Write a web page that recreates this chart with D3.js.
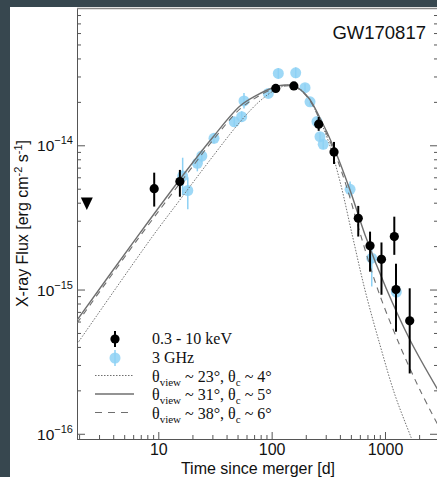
<!DOCTYPE html>
<html>
<head>
<meta charset="utf-8">
<script src="https://cdn.jsdelivr.net/npm/d3@7"></script>
<style>
body { margin: 0; background: #37474f; }
svg { display: block; }
</style>
</head>
<body>
<svg width="437" height="477"></svg>
<script>
// X-ray points (0.3 - 10 keV): time [d], flux and error range
var xrayT  = [9.2, 15.5, 108.7, 157, 260, 355, 581, 738, 931, 1208, 1250, 1652];
var xrayF  = [5.0e-15, 5.6e-15, 2.48e-14, 2.58e-14, 1.40e-14, 9.0e-15, 3.12e-15, 2.01e-15, 1.62e-15, 2.33e-15, 1.0e-15, 6.07e-16];
var xrayLo = [3.76e-15, 4.40e-15, 2.33e-14, 2.43e-14, 1.26e-14, 7.42e-15, 2.33e-15, 1.33e-15, 9.2e-16, 1.74e-15, 5.1e-16, 2.62e-16];
var xrayHi = [6.46e-15, 6.75e-15, 2.64e-14, 2.74e-14, 1.57e-14, 1.055e-14, 3.8e-15, 2.52e-15, 2.12e-15, 3.2e-15, 1.51e-15, 1.02e-15];

// upper limit
var limitT = [2.34];
var limitF = [3.95e-15];

// 3 GHz points (scaled to X-ray)
var radioT  = [16.4, 18.2, 22.1, 24.2, 31.0, 46.8, 54.4, 57.0, 93.4, 114.5, 163, 197, 218, 251, 267, 285, 492, 764, 1259];
var radioF  = [6.12e-15, 4.86e-15, 7.5e-15, 8.43e-15, 1.117e-14, 1.456e-14, 1.58e-14, 2.03e-14, 2.29e-14, 3.15e-14, 3.18e-14, 2.51e-14, 2.0e-14, 1.46e-14, 1.148e-14, 1.016e-14, 4.95e-15, 1.65e-15, 9.6e-16];
var radioLo = [4.5e-15, 3.6e-15, 6.6e-15, 7.6e-15, 1.03e-14, 1.35e-14, 1.45e-14, 1.80e-14, 2.15e-14, 2.90e-14, 2.92e-14, 2.36e-14, 1.88e-14, 1.38e-14, 1.07e-14, 9.4e-15, 4.4e-15, 1.05e-15, 8.7e-16];
var radioHi = [8.2e-15, 6.0e-15, 8.4e-15, 9.3e-15, 1.21e-14, 1.57e-14, 1.72e-14, 2.30e-14, 2.44e-14, 3.42e-14, 3.46e-14, 2.67e-14, 2.13e-14, 1.55e-14, 1.23e-14, 1.10e-14, 5.6e-15, 2.0e-15, 1.06e-15];

// model light curves
var modelT23 = [1.92, 8.8, 15.5, 28.6, 52.6, 78.9, 111, 145, 178, 218, 256, 314, 398, 519, 666, 904, 1225, 1694, 2036];
var modelF23 = [4.19e-16, 2.31e-15, 4.18e-15, 7.91e-15, 1.452e-14, 2.03e-14, 2.457e-14, 2.62e-14, 2.457e-14, 2.06e-14, 1.60e-14, 1.088e-14, 5.74e-15, 2.31e-15, 9.92e-16, 4.12e-16, 1.855e-16, 9.49e-17, 6.58e-17];
var modelT31 = [1.92, 6.49, 17.9, 30.4, 52.6, 74.3, 107, 131, 157, 209, 267, 355, 491, 667, 1021, 1662, 2935];
var modelF31 = [6.14e-16, 2.31e-15, 6.74e-15, 1.142e-14, 1.873e-14, 2.23e-14, 2.536e-14, 2.62e-14, 2.58e-14, 2.16e-14, 1.546e-14, 9.58e-15, 4.9e-15, 2.39e-15, 1.024e-15, 4.47e-16, 2.01e-16];
var modelT38 = [1.92, 6.49, 17.9, 30.4, 52.6, 74.3, 107, 131, 161, 209, 267, 355, 462, 602, 867, 1357, 2036, 2935];
var modelF38 = [5.86e-16, 2.20e-15, 6.33e-15, 1.088e-14, 1.786e-14, 2.16e-14, 2.50e-14, 2.58e-14, 2.54e-14, 2.13e-14, 1.498e-14, 9.13e-15, 5.06e-15, 2.47e-15, 9.92e-16, 4.06e-16, 2.01e-16, 1.15e-16];

// ticks and labels
var xMajor = [10, 100, 1000];
var xLabels = ["10", "100", "1000"];
var yMajor = [1e-16, 1e-15, 1e-14];
var yExp = ["\u221216", "\u221215", "\u221214"];

var w = 437, h = 477;
var margin = {top: 8, left: 77},
    width = 361,
    height = 431;

var sans = "'Liberation Sans', Arial, Helvetica, sans-serif";
var serif = "'Liberation Serif', 'Times New Roman', serif";
var blue = "#8dd1f4";
var gray = "#6f6f6f";

var svg = d3.select("svg");

// white paper
svg.append("rect")
    .attr("x", 10).attr("y", 7)
    .attr("width", w - 10).attr("height", h - 7)
    .attr("fill", "#fff");

var x = d3.scaleLog().domain([1.917, 2935]).range([0, width]);
var y = d3.scaleLog().domain([9.2e-17, 8.95e-14]).range([height, 0]);

var g = svg.append("g")
    .attr("transform", "translate(" + margin.left + "," + margin.top + ")");

svg.append("defs").append("clipPath").attr("id", "clip")
  .append("rect").attr("width", width).attr("height", height);

function isMajor(d) {
    var l = Math.log10(d);
    return Math.abs(l - Math.round(l)) < 1e-6;
}

// minor ticks
var xMinor = x.ticks().filter(function(d) { return !isMajor(d); });
var yMinor = y.ticks().filter(function(d) { return !isMajor(d); });

function styleAxis(sel) {
    sel.selectAll("path").attr("stroke", "#555");
    sel.selectAll("line").attr("stroke", "#555");
}

g.append("g")
    .attr("transform", "translate(0," + height + ")")
    .call(d3.axisBottom(x).tickValues(xMinor).tickSize(-4).tickSizeOuter(0).tickFormat(""))
    .call(styleAxis);

g.append("g")
    .attr("transform", "translate(0," + height + ")")
    .call(d3.axisBottom(x).tickValues(xMajor).tickSize(-7).tickSizeOuter(0).tickPadding(5)
        .tickFormat(function(d, i) { return xLabels[i]; }))
    .call(styleAxis)
    .call(function(a) {
        a.selectAll("text").attr("font-family", sans).attr("font-size", 16).attr("fill", "#111");
    });

g.append("g")
    .call(d3.axisLeft(y).tickValues(yMinor).tickSize(-4).tickSizeOuter(0).tickFormat(""))
    .call(styleAxis);
g.append("g")
    .call(d3.axisLeft(y).tickValues(yMajor).tickSize(-8).tickSizeOuter(0).tickFormat(""))
    .call(styleAxis);

g.append("g")
    .attr("transform", "translate(" + width + ",0)")
    .call(d3.axisRight(y).tickValues(yMinor).tickSize(-4).tickSizeOuter(0).tickFormat(""))
    .call(styleAxis);
g.append("g")
    .attr("transform", "translate(" + width + ",0)")
    .call(d3.axisRight(y).tickValues(yMajor).tickSize(-8).tickSizeOuter(0).tickFormat(""))
    .call(styleAxis);

// top border
g.append("line")
    .attr("x1", 0).attr("x2", width)
    .attr("y1", 0.5).attr("y2", 0.5)
    .attr("stroke", "#8a8a8a").attr("stroke-width", 1.5);

// y tick labels 10^n
yMajor.forEach(function(v, i) {
    var t = g.append("text")
        .attr("x", -4).attr("y", y(v) + 6)
        .attr("text-anchor", "end")
        .attr("font-family", sans).attr("font-size", 15.5).attr("fill", "#111");
    t.append("tspan").text("10");
    t.append("tspan").attr("dy", -7).attr("font-size", 11).text(yExp[i]);
});

// axis titles
var yt = svg.append("text")
    .attr("transform", "translate(27.5," + (margin.top + height / 2) + ") rotate(-90)")
    .attr("text-anchor", "middle")
    .attr("font-family", sans).attr("font-size", 16).attr("fill", "#111");
yt.append("tspan").text("X-ray Flux [erg cm");
yt.append("tspan").attr("dy", -6).attr("font-size", 11).text("-2");
yt.append("tspan").attr("dy", 6).text(" s");
yt.append("tspan").attr("dy", -6).attr("font-size", 11).text("-1");
yt.append("tspan").attr("dy", 6).text("]");

svg.append("text")
    .attr("x", 258).attr("y", 474)
    .attr("text-anchor", "middle")
    .attr("font-family", sans).attr("font-size", 16).attr("fill", "#111")
    .text("Time since merger [d]");

svg.append("text")
    .attr("x", 426).attr("y", 39)
    .attr("text-anchor", "end")
    .attr("font-family", sans).attr("font-size", 18.5).attr("fill", "#111")
    .text("GW170817");

var plot = g.append("g").attr("clip-path", "url(#clip)");

// radio points
var radio = radioT.map(function(t, i) { return {t: t, f: radioF[i], lo: radioLo[i], hi: radioHi[i]}; });
plot.selectAll(".rbar").data(radio).enter().append("line")
    .attr("x1", function(d) { return x(d.t); }).attr("x2", function(d) { return x(d.t); })
    .attr("y1", function(d) { return y(d.lo); }).attr("y2", function(d) { return y(d.hi); })
    .attr("stroke", blue).attr("stroke-width", 1.5);
plot.selectAll(".rdot").data(radio).enter().append("circle")
    .attr("cx", function(d) { return x(d.t); })
    .attr("cy", function(d) { return y(d.f); })
    .attr("r", 5.5)
    .attr("fill", blue).attr("fill-opacity", 0.85);

// model curves
var line = d3.line()
    .x(function(d) { return x(d[0]); })
    .y(function(d) { return y(d[1]); })
    .curve(d3.curveCatmullRom.alpha(0.5));

function pairs(ts, fs) { return ts.map(function(t, i) { return [t, fs[i]]; }); }

plot.append("path")
    .attr("d", line(pairs(modelT23, modelF23)))
    .attr("fill", "none").attr("stroke", gray).attr("stroke-width", 1)
    .attr("stroke-dasharray", "1.5,1.5");
plot.append("path")
    .attr("d", line(pairs(modelT31, modelF31)))
    .attr("fill", "none").attr("stroke", gray).attr("stroke-width", 1.4);
plot.append("path")
    .attr("d", line(pairs(modelT38, modelF38)))
    .attr("fill", "none").attr("stroke", gray).attr("stroke-width", 1.1)
    .attr("stroke-dasharray", "6,5");

// x-ray points
var xray = xrayT.map(function(t, i) { return {t: t, f: xrayF[i], lo: xrayLo[i], hi: xrayHi[i]}; });
plot.selectAll(".xbar").data(xray).enter().append("line")
    .attr("x1", function(d) { return x(d.t); }).attr("x2", function(d) { return x(d.t); })
    .attr("y1", function(d) { return y(d.lo); }).attr("y2", function(d) { return y(d.hi); })
    .attr("stroke", "#000").attr("stroke-width", 2);
plot.selectAll(".xdot").data(xray).enter().append("circle")
    .attr("cx", function(d) { return x(d.t); })
    .attr("cy", function(d) { return y(d.f); })
    .attr("r", 4.6)
    .attr("fill", "#000");

// upper limit triangle
plot.selectAll(".ul").data(limitT).enter().append("path")
    .attr("d", function(t, i) {
        var cx = x(t), cy = y(limitF[i]);
        return "M" + (cx - 6) + "," + (cy - 6) + "L" + (cx + 6) + "," + (cy - 6) + "L" + cx + "," + (cy + 6.5) + "Z";
    })
    .attr("fill", "#000");

// legend
var leg = svg.append("g").attr("font-family", serif).attr("font-size", 16).attr("fill", "#111");
leg.append("line").attr("x1", 115).attr("x2", 115).attr("y1", 331).attr("y2", 347)
    .attr("stroke", "#000").attr("stroke-width", 2);
leg.append("circle").attr("cx", 115).attr("cy", 339).attr("r", 4.6).attr("fill", "#000");
leg.append("text").attr("x", 152).attr("y", 344).text("0.3 - 10 keV");

leg.append("line").attr("x1", 115).attr("x2", 115).attr("y1", 350).attr("y2", 366)
    .attr("stroke", blue).attr("stroke-width", 1.5);
leg.append("circle").attr("cx", 115).attr("cy", 358).attr("r", 5.5).attr("fill", blue).attr("fill-opacity", 0.85);
leg.append("text").attr("x", 152).attr("y", 363).text("3 GHz");

var legModels = [
    {y: 375.5, dash: "1.5,1.5", sw: 1, view: "23", core: "4"},
    {y: 394, dash: null, sw: 1.4, view: "31", core: "5"},
    {y: 412.5, dash: "7,6", sw: 1.1, view: "38", core: "6"}
];
legModels.forEach(function(m) {
    leg.append("line").attr("x1", 95).attr("x2", 134).attr("y1", m.y).attr("y2", m.y)
        .attr("stroke", gray).attr("stroke-width", m.sw)
        .attr("stroke-dasharray", m.dash);
    var t = leg.append("text").attr("x", 152).attr("y", m.y + 6);
    t.append("tspan").text("\u03b8");
    t.append("tspan").attr("dy", 4).attr("font-size", 11).text("view");
    t.append("tspan").attr("dy", -4).text(" ~ " + m.view + "\u00b0, \u03b8");
    t.append("tspan").attr("dy", 4).attr("font-size", 11).text("c");
    t.append("tspan").attr("dy", -4).text(" ~ " + m.core + "\u00b0");
});
</script>
</body>
</html>
